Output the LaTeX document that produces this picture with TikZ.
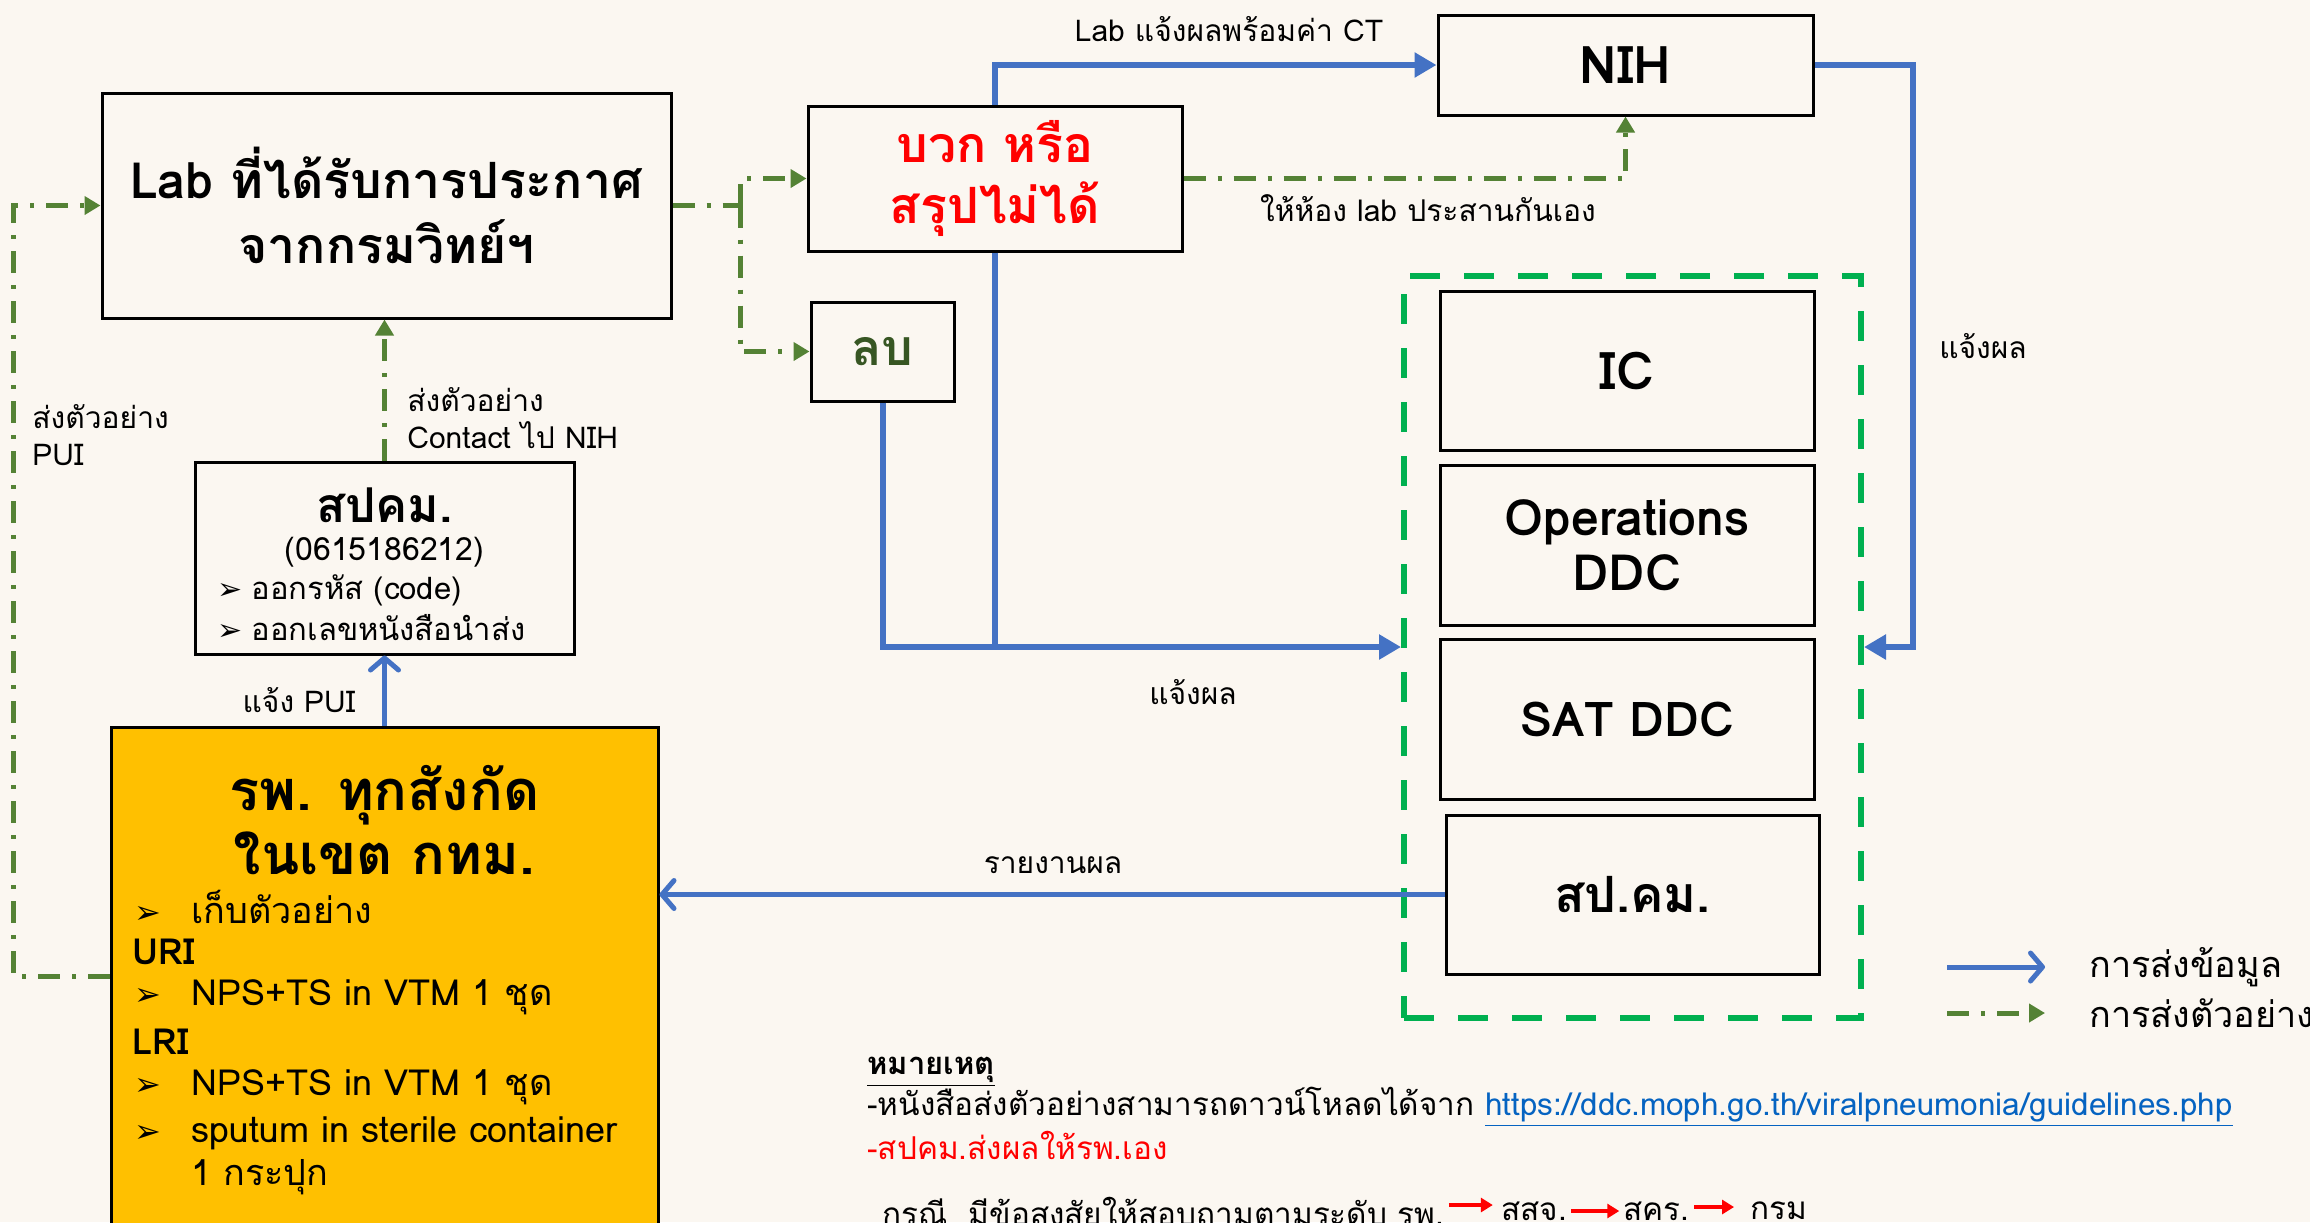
\documentclass[tikz,border=0pt]{standalone}
\usepackage{fontspec}
\setmainfont{Loma}[Script=Thai]
\newfontfamily\dvfont{DejaVu Sans}
\usetikzlibrary{arrows.meta}
\definecolor{bgc}{HTML}{FBF7F1}
\definecolor{bl}{HTML}{4472C4}
\definecolor{gdd}{HTML}{548235}
\definecolor{gd}{HTML}{00B050}
\definecolor{yel}{HTML}{FFC000}
\definecolor{rd}{HTML}{FF0000}
\definecolor{dg}{HTML}{375623}
\definecolor{lnk}{HTML}{0563C1}
\newcommand{\fs}[1]{\fontsize{#1pt}{\dimexpr #1pt*5/4\relax}\selectfont}
\newcommand{\bul}[2]{\makebox[#2][l]{\dvfont\fontsize{#1pt}{#1pt}\selectfont\char"27A2}}
\begin{document}
\begin{tikzpicture}[x=0.5pt,y=-0.5pt,
  box/.style={draw=black, line width=1.5pt, inner sep=0pt, align=center},
  lbl/.style={inner sep=0pt, font=\fs{15}},
  bln/.style={draw=bl, line width=3pt},
  blo/.style={draw=bl, line width=2.5pt, -{Straight Barb[length=6pt,width=14pt,line cap=round,line join=round]}},
  tipT/.style={-{Triangle[length=11pt,width=12pt]}},
  dd/.style={draw=gdd, line width=2.5pt, dash pattern=on 11pt off 6pt on 2pt off 6pt},
  ddtip/.style={-{Triangle[length=8pt,width=9pt]}},
  hl/.style={inner sep=0pt, anchor=west, font=\fs{18}},
  redar/.style={draw=rd, line width=2pt, -{Triangle[length=6pt,width=7pt]}}
]
\fill[bgc] (0,0) rectangle (2310,1222);
\useasboundingbox (0,0) rectangle (2310,1222);
\clip (0,0) rectangle (2310,1222);

% main boxes
\node[box, minimum width=284.5pt, minimum height=112.5pt, font=\fs{25}\bfseries] (lab) at (386.5,205.5) {Lab ที่ได้รับการประกาศ\\[1pt]จากกรมวิทย์ฯ};
\node[box, minimum width=187pt, minimum height=72.5pt, font=\fs{25}\bfseries, text=rd] (pos) at (995,178.5) {บวก หรือ\\[-1pt]สรุปไม่ได้};
\node[box, minimum width=71.5pt, minimum height=49.5pt, font=\fs{25}\bfseries, text=dg] (neg) at (882.5,351.5) {ลบ};
\node[box, minimum width=187.5pt, minimum height=50pt, font=\fs{26}\bfseries] (nih) at (1625.5,65) {NIH};

\node[draw=gd, line width=3pt, dash pattern=on 15pt off 12pt, minimum width=228.5pt, minimum height=371pt, inner sep=0pt] (grp) at (1632.5,647) {};
\node[box, minimum width=187pt, minimum height=79.5pt, font=\fs{26}\bfseries] (ic) at (1627,370.5) {IC};
\node[box, minimum width=187pt, minimum height=80pt, font=\fs{25}\bfseries] (ops) at (1627,545) {Operations\\[-4pt]DDC};
\node[box, minimum width=187pt, minimum height=80pt, font=\fs{24}\bfseries] (sat) at (1627,719) {SAT DDC};
\node[box, minimum width=186.5pt, minimum height=79.5pt, font=\fs{25}\bfseries] (spkm2) at (1632.5,894.5) {สป.คม.};

\node[box, minimum width=189.5pt, minimum height=96pt] (spkm) at (384.5,558) {};
\node[inner sep=0pt, font=\fs{24}\bfseries] (spkmt) at (384.5,505) {สปคม.};
\node[inner sep=0pt, font=\fs{16}] (spkmp) at (384.5,552) {(0615186212)};
\node[inner sep=0pt, anchor=west, font=\fs{15.5}] (spkmb1) at (217,590) {\bul{15}{17pt}ออกรหัส (code)};
\node[inner sep=0pt, anchor=west, font=\fs{15.5}] (spkmb2) at (217,628) {\bul{15}{17pt}ออกเลขหนังสือนำส่ง};

\node[box, fill=yel, minimum width=273.5pt, minimum height=266.5pt] (hosp) at (384.5,993.5) {};
\node[inner sep=0pt, font=\fs{28}\bfseries] (ht1) at (384.5,795) {รพ. ทุกสังกัด};
\node[inner sep=0pt, font=\fs{28}\bfseries] (ht2) at (384.5,853) {ในเขต กทม.};
\node[hl] (hb1) at (134,907) {\bul{16}{28.5pt}เก็บตัวอย่าง};
\node[hl, font=\fs{18}\bfseries] (huri) at (132,952) {URI};
\node[hl] (hb2) at (134,997) {\bul{16}{28.5pt}NPS+TS in VTM 1 ชุด};
\node[hl, font=\fs{18}\bfseries] (hlri) at (132,1042) {LRI};
\node[hl] (hb3) at (134,1087) {\bul{16}{28.5pt}NPS+TS in VTM 1 ชุด};
\node[hl] (hb4) at (134,1133) {\bul{16}{28.5pt}sputum in sterile container};
\node[hl] (hb5) at (191,1177) {1 กระปุก};

% connectors
\coordinate (hy) at (0,976);
\coordinate (lc) at (13,976);
\draw[dd, ddtip] (hosp.west |- hy) -- (lc) |- (lab.west);
\draw[dd, ddtip] (spkm.north) -- (spkm.north |- lab.south);
\coordinate (br) at (740,205.5);
\draw[dd] (lab.east) -- (br);
\draw[dd, ddtip] (br) |- (pos.west);
\draw[dd, ddtip] (br) |- (neg.west);
\draw[dd, ddtip] (pos.east) -| (nih.south);
\draw[bln, tipT] (pos.north) |- (nih.west);
\draw[bln, tipT] (neg.south) |- (grp.west);
\draw[bln] (pos.south) -- (pos.south |- grp.west);
\draw[bln, tipT] (nih.east) -- ++(98,0) |- (grp.east);
\draw[blo] (hosp.north) -- (spkm.south);
\draw[blo] (spkm2.west) -- (spkm2.west -| hosp.east);

% connector labels
\node[lbl] (l1) at (1229,29) {Lab แจ้งผลพร้อมค่า CT};
\node[lbl] (l2) at (1428,208) {ให้ห้อง lab ประสานกันเอง};
\node[lbl] (l3) at (1193,692) {แจ้งผล};
\node[lbl] (l4) at (1983,346) {แจ้งผล};
\node[lbl] (l5) at (1053,865) {รายงานผล};
\node[lbl] (l6) at (299,700) {แจ้ง PUI};
\node[lbl, anchor=west, align=left] (l7) at (32,435) {ส่งตัวอย่าง\\PUI};
\node[lbl, anchor=west, align=left] (l8) at (407,418) {ส่งตัวอย่าง\\Contact ไป NIH};

% legend
\coordinate (lg1a) at (1947,967);
\coordinate (lg1b) at (2045,967);
\coordinate (lg2a) at (1947,1013);
\coordinate (lg2b) at (2045,1013);
\draw[blo] (lg1a) -- (lg1b);
\draw[dd, ddtip] (lg2a) -- (lg2b);
\node[inner sep=0pt, anchor=west, font=\fs{18}] (lgt1) at (2089,967) {การส่งข้อมูล};
\node[inner sep=0pt, anchor=west, font=\fs{18}] (lgt2) at (2089,1013) {การส่งตัวอย่าง};

% notes
\node[lbl, anchor=west, font=\fs{15.5}\bfseries] (n1) at (867,1072) {\underline{หมายเหตุ}};
\node[lbl, anchor=west, font=\fs{15.75}] (n2) at (867,1107) {-หนังสือส่งตัวอย่างสามารถดาวน์โหลดได้จาก \textcolor{lnk}{\underline{https://ddc.moph.go.th/viralpneumonia/guidelines.php}}};
\node[lbl, anchor=west, text=rd, font=\fs{15.75}] (n3) at (867,1145) {-สปคม.ส่งผลให้รพ.เอง};
\node[lbl, anchor=west, font=\fs{15.75}] (n4a) at (882,1211) {กรณี\ \ มีข้อสงสัยให้สอบถามตามระดับ รพ.};
\node[lbl, anchor=west, font=\fs{15.75}] (n4b) at ([xshift=28pt]n4a.east) {สสจ.};
\node[lbl, anchor=west, font=\fs{15.75}] (n4c) at ([xshift=28pt]n4b.east) {สคร.};
\node[lbl, anchor=west, font=\fs{15.75}] (n4d) at ([xshift=30pt]n4c.east) {กรม};
\draw[redar] ([xshift=2pt,yshift=3pt]n4a.east) -- ([xshift=-4pt,yshift=3pt]n4b.west);
\draw[redar] ([xshift=2pt]n4b.east) -- ([xshift=-2pt]n4c.west);
\draw[redar] ([xshift=2pt,yshift=2pt]n4c.east) -- ([xshift=-8pt,yshift=2pt]n4d.west);
\end{tikzpicture}
\end{document}
